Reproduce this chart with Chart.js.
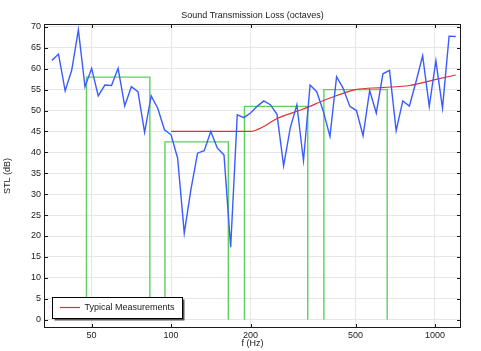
<!DOCTYPE html>
<html>
<head>
<meta charset="utf-8">
<script src="https://cdn.jsdelivr.net/npm/chart.js@4/dist/chart.umd.min.js"></script>
<style>
  html, body { margin: 0; padding: 0; background: #fff; }
  #c { display: block; }
</style>
</head>
<body>
<canvas id="c" width="481" height="351"></canvas>
<script>
// ---- Data ----
const freqs = [35.36, 37.46, 39.69, 42.04, 44.54, 47.19, 50.00, 52.97, 56.12, 59.46,
  63.00, 66.74, 70.71, 74.92, 79.37, 84.09, 89.09, 94.39, 100.0, 105.9,
  112.2, 118.9, 126.0, 133.5, 141.4, 149.8, 158.7, 168.2, 178.2, 188.8,
  200.0, 211.9, 224.5, 237.8, 252.0, 267.0, 282.8, 299.7, 317.5, 336.4,
  356.4, 377.6, 400.0, 423.8, 449.0, 475.7, 504.0, 534.0, 565.7, 599.3,
  635.0, 672.7, 712.7, 755.1, 800.0, 847.6, 898.0, 951.4, 1008, 1068,
  1131, 1199];
const stlValues = [62.0, 63.5, 54.7, 59.7, 69.3, 55.7, 60.1, 53.5, 56.1, 56.0,
  60.1, 51.1, 55.7, 54.5, 44.8, 53.5, 50.5, 45.4, 44.2, 38.6,
  20.7, 31.1, 39.8, 40.4, 45.0, 41.0, 39.4, 17.3, 49.0, 48.3,
  49.4, 51.0, 52.3, 51.4, 49.1, 36.8, 45.8, 51.4, 38.0, 56.1,
  54.5, 49.8, 43.8, 58.1, 55.3, 51.0, 50.0, 44.0, 54.8, 49.4,
  58.8, 59.6, 45.2, 52.3, 51.1, 56.9, 63.1, 51.0, 61.9, 50.6,
  67.8, 67.7];

const typicalFreqs = [100, 200, 224.5, 250, 315, 400, 500, 630, 800, 1000, 1199];
const typicalValues = [45.0, 45.0, 46.2, 48.0, 50.3, 53.0, 55.0, 55.5, 56.0, 57.4, 58.5];

const bandLow = [47.8, 94.8, 189.7, 379.3];
const bandHigh = [83.1, 164.8, 329.6, 659.2];
const bandValues = [58.0, 42.5, 51.0, 55.0];

const xTicks = [50, 100, 200, 500, 1000];
const yTicks = [0, 5, 10, 15, 20, 25, 30, 35, 40, 45, 50, 55, 60, 65, 70];

const titleText = 'Sound Transmission Loss (octaves)';
const xTitle = 'f (Hz)';
const yTitle = 'STL (dB)';
const legendLabel = 'Typical Measurements';

// ---- Build datasets ----
const stlPoints = freqs.map((f, i) => ({ x: f, y: stlValues[i] }));
const typicalPoints = typicalFreqs.map((f, i) => ({ x: f, y: typicalValues[i] }));
const bandPoints = [];
bandValues.forEach((v, i) => {
  bandPoints.push({ x: bandLow[i], y: 0 });
  bandPoints.push({ x: bandLow[i], y: v });
  bandPoints.push({ x: bandHigh[i], y: v });
  bandPoints.push({ x: bandHigh[i], y: 0 });
  bandPoints.push({ x: bandHigh[i], y: null });
});

const FONT = 'Liberation Sans';
const FS = 9;
const BLUE = '#3a5cff';
const RED = '#e0302e';
const GREEN = '#5fd060';

const framePlugin = {
  id: 'frame',
  afterDraw(chart) {
    const ctx = chart.ctx;
    const a = chart.chartArea;
    const xs = chart.scales.x, ys = chart.scales.y;
    ctx.save();
    ctx.strokeStyle = '#1a1a1a';
    ctx.lineWidth = 1;
    ctx.strokeRect(Math.round(a.left) + 0.5, Math.round(a.top) + 0.5,
      Math.round(a.right - a.left) - 1, Math.round(a.bottom - a.top) - 1);
    ctx.beginPath();
    const tl = 4;
    xTicks.forEach(t => {
      const px = Math.round(xs.getPixelForValue(t)) + 0.5;
      ctx.moveTo(px, a.bottom); ctx.lineTo(px, a.bottom - tl);
      ctx.moveTo(px, a.top); ctx.lineTo(px, a.top + tl);
    });
    yTicks.forEach(t => {
      const py = Math.round(ys.getPixelForValue(t)) + 0.5;
      ctx.moveTo(a.left, py); ctx.lineTo(a.left + tl, py);
      ctx.moveTo(a.right, py); ctx.lineTo(a.right - tl, py);
    });
    ctx.stroke();

    ctx.fillStyle = '#1a1a1a';
    ctx.font = FS + 'px "' + FONT + '"';
    ctx.textAlign = 'center';
    ctx.textBaseline = 'middle';
    ctx.fillText(titleText, (a.left + a.right) / 2, 16);
    ctx.fillText(xTitle, (a.left + a.right) / 2, 344);
    ctx.save();
    ctx.translate(8, (a.top + a.bottom) / 2);
    ctx.rotate(-Math.PI / 2);
    ctx.fillText(yTitle, 0, 0);
    ctx.restore();

    const lx = 52.5, ly = 297.5, lw = 130, lh = 21;
    ctx.fillStyle = '#555';
    ctx.fillRect(lx + 2, ly + 2, lw, lh);
    ctx.fillStyle = '#fff';
    ctx.fillRect(lx, ly, lw, lh);
    ctx.strokeStyle = '#000';
    ctx.lineWidth = 1;
    ctx.strokeRect(lx, ly, lw, lh);
    ctx.strokeStyle = RED;
    ctx.lineWidth = 1.2;
    ctx.beginPath();
    ctx.moveTo(60, 307.5); ctx.lineTo(80, 307.5);
    ctx.stroke();
    ctx.fillStyle = '#1a1a1a';
    ctx.textAlign = 'left';
    ctx.fillText(legendLabel, 84.5, 307.5);
    ctx.restore();
  }
};

new Chart(document.getElementById('c'), {
  type: 'line',
  data: {
    datasets: [
      {
        label: 'STL',
        data: stlPoints,
        borderColor: BLUE,
        borderWidth: 1.4,
        pointRadius: 0,
        tension: 0,
        order: 0
      },
      {
        label: legendLabel,
        data: typicalPoints,
        borderColor: RED,
        borderWidth: 1.2,
        pointRadius: 0,
        cubicInterpolationMode: 'monotone',
        order: 1
      },
      {
        label: 'Octave bands',
        data: bandPoints,
        borderColor: GREEN,
        borderWidth: 1.4,
        pointRadius: 0,
        tension: 0,
        spanGaps: false,
        order: 2
      }
    ]
  },
  options: {
    responsive: false,
    animation: false,
    layout: { padding: { top: 24, right: 20, left: 0, bottom: 0 } },
    plugins: { legend: { display: false }, title: { display: false }, tooltip: { enabled: false } },
    scales: {
      x: {
        type: 'logarithmic',
        min: 33,
        max: 1255,
        afterBuildTicks: s => { s.ticks = xTicks.map(v => ({ value: v })); },
        afterFit: s => { s.height = 23; },
        grid: { color: '#e6e6e6', drawTicks: false, lineWidth: 1 },
        border: { display: false },
        ticks: {
          padding: 2,
          color: '#1a1a1a',
          font: { family: FONT, size: FS },
          maxRotation: 0,
          autoSkip: false,
          callback: v => String(v)
        }
      },
      y: {
        type: 'linear',
        min: -2,
        max: 70.7,
        afterBuildTicks: s => { s.ticks = yTicks.map(v => ({ value: v })); },
        afterFit: s => { s.width = 44; },
        grid: { color: '#e6e6e6', drawTicks: false, lineWidth: 1 },
        border: { display: false },
        ticks: {
          padding: 3,
          color: '#1a1a1a',
          font: { family: FONT, size: FS },
          autoSkip: false,
          callback: v => String(v)
        }
      }
    }
  },
  plugins: [framePlugin]
});
</script>
</body>
</html>
